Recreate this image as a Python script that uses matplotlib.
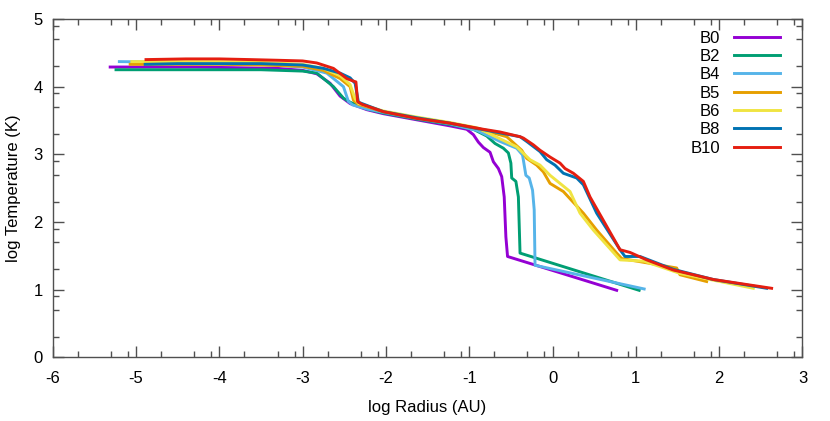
import numpy as np
import matplotlib
matplotlib.use("Agg")
import matplotlib.pyplot as plt

plt.rcParams['font.family'] = ['Liberation Sans', 'DejaVu Sans']
plt.rcParams['axes.unicode_minus'] = False

# log radius (AU) / log temperature (K)
b0_x = [-5.31, -4.8, -4.3, -3.8, -3.3, -3.0, -2.83, -2.67, -2.55, -2.43, -2.23, -2.03, -1.63, -1.23,
        -1.03, -0.95, -0.89, -0.83, -0.75, -0.71, -0.65, -0.61, -0.58, -0.56, -0.54, 0.77]
b0_y = [4.29, 4.29, 4.29, 4.28, 4.27, 4.24, 4.19, 4.05, 3.86, 3.75, 3.66, 3.60, 3.51, 3.42,
        3.37, 3.29, 3.18, 3.10, 3.03, 2.89, 2.79, 2.67, 2.37, 1.78, 1.49, 0.99]

b2_x = [-5.24, -4.5, -4.0, -3.5, -3.0, -2.83, -2.63, -2.51, -2.43, -2.23, -2.03, -1.63, -1.23, -0.95,
        -0.79, -0.69, -0.59, -0.53, -0.50, -0.49, -0.44, -0.41, -0.39, 1.04]
b2_y = [4.25, 4.25, 4.25, 4.25, 4.23, 4.20, 4.00, 3.83, 3.77, 3.67, 3.61, 3.52, 3.44, 3.37,
        3.27, 3.16, 3.09, 3.02, 2.87, 2.65, 2.60, 2.37, 1.54, 0.99]

b4_x = [-5.20, -4.5, -4.0, -3.5, -3.0, -2.71, -2.51, -2.45, -2.40, -2.23, -2.03, -1.63, -1.23, -0.9,
        -0.63, -0.43, -0.36, -0.32, -0.28, -0.24, -0.22, -0.21, 1.10]
b4_y = [4.37, 4.36, 4.35, 4.33, 4.29, 4.20, 4.00, 3.78, 3.73, 3.67, 3.62, 3.53, 3.45, 3.35,
        3.19, 3.09, 2.99, 2.69, 2.65, 2.47, 2.18, 1.36, 1.01]

b5_x = [-5.07, -4.5, -4.0, -3.5, -3.0, -2.75, -2.55, -2.43, -2.39, -2.33, -2.03, -1.63, -1.23, -0.9,
        -0.55, -0.37, -0.31, -0.19, -0.11, -0.03, 0.13, 0.37, 0.53, 0.77, 0.83, 1.49, 1.53, 1.85]
b5_y = [4.33, 4.33, 4.33, 4.32, 4.30, 4.24, 4.12, 4.00, 3.80, 3.74, 3.63, 3.54, 3.46, 3.38,
        3.26, 3.06, 2.94, 2.84, 2.74, 2.57, 2.45, 2.13, 1.88, 1.54, 1.46, 1.32, 1.22, 1.12]

b6_x = [-5.05, -4.5, -4.0, -3.5, -3.0, -2.75, -2.55, -2.43, -2.37, -2.33, -2.03, -1.63, -1.23, -0.9,
        -0.43, -0.27, -0.15, -0.03, 0.21, 0.33, 0.49, 0.81, 1.10, 1.53, 2.41]
b6_y = [4.37, 4.37, 4.37, 4.36, 4.33, 4.27, 4.16, 4.03, 3.82, 3.75, 3.64, 3.55, 3.47, 3.39,
        3.11, 2.92, 2.84, 2.69, 2.45, 2.13, 1.88, 1.44, 1.42, 1.24, 1.02]

b8_x = [-4.89, -4.5, -4.0, -3.5, -3.0, -2.75, -2.55, -2.43, -2.37, -2.33, -2.03, -1.63, -1.23, -0.9,
        -0.39, -0.31, -0.15, -0.07, 0.03, 0.13, 0.29, 0.37, 0.53, 0.81, 0.87, 1.05, 1.45, 1.93, 2.57]
b8_y = [4.33, 4.34, 4.34, 4.34, 4.32, 4.27, 4.20, 4.13, 4.05, 3.77, 3.63, 3.54, 3.46, 3.38,
        3.26, 3.19, 3.04, 2.92, 2.84, 2.72, 2.65, 2.55, 2.13, 1.59, 1.49, 1.49, 1.30, 1.15, 1.02]

b10_x = [-4.88, -4.4, -4.0, -3.63, -3.3, -3.0, -2.83, -2.63, -2.47, -2.41, -2.36, -2.34, -2.29, -2.03,
         -1.63, -1.23, -0.83, -0.63, -0.39, -0.35, -0.23, -0.15, -0.03, 0.09, 0.15, 0.25, 0.37, 0.45,
         0.81, 0.93, 1.13, 1.45, 1.93, 2.63]
b10_y = [4.40, 4.41, 4.41, 4.40, 4.39, 4.38, 4.35, 4.27, 4.12, 4.09, 4.07, 3.78, 3.74, 3.63,
         3.53, 3.46, 3.37, 3.33, 3.26, 3.24, 3.14, 3.06, 2.96, 2.87, 2.79, 2.72, 2.60, 2.37,
         1.59, 1.55, 1.44, 1.29, 1.15, 1.02]

labels = ["B0", "B2", "B4", "B5", "B6", "B8", "B10"]
colors = ["#9400d3", "#009e73", "#56b4e9", "#e69f00", "#f0e442", "#0072b2", "#e51e10"]
series = [(b0_x, b0_y), (b2_x, b2_y), (b4_x, b4_y), (b5_x, b5_y),
          (b6_x, b6_y), (b8_x, b8_y), (b10_x, b10_y)]

fig = plt.figure(figsize=(8.3, 4.21), dpi=100)
ax = fig.add_axes([0.0635, 0.1513, 0.9033, 0.8036])

for (xs, ys), lab, col in zip(series, labels, colors):
    ax.plot(xs, ys, color=col, lw=2.1, label=lab)

ax.set_xlim(-6, 3)
ax.set_ylim(0, 5)
ax.set_xticks(np.arange(-6, 4, 1))
ax.set_yticks(np.arange(0, 6, 1))
# minor ticks like gnuplot's log-style subdivisions
offs = np.log10([2, 5, 8])
ax.set_xticks([n + o for n in range(-6, 3) for o in offs], minor=True)
ax.set_yticks([n + o for n in range(0, 5) for o in offs], minor=True)

ax.tick_params(which='both', direction='in', top=True, right=True, labelsize=12,
               color='#505050')
ax.tick_params(axis='x', which='major', pad=10)
ax.tick_params(axis='y', which='major', pad=7)
ax.tick_params(which='major', length=8, width=1)
ax.tick_params(which='minor', length=4, width=1)
for s in ax.spines.values():
    s.set_color('#505050')
    s.set_linewidth(1)

ax.set_xlabel("log Radius (AU)", fontsize=12, labelpad=10)
ax.set_ylabel("log Temperature (K)", fontsize=12, labelpad=9)

ax.legend(loc='upper right', bbox_to_anchor=(0.986, 1.0), frameon=False, markerfirst=False,
          fontsize=12, handlelength=2.8, labelspacing=0.2, borderaxespad=0.3, handletextpad=0.8)

fig.savefig("out.png", dpi=100)
